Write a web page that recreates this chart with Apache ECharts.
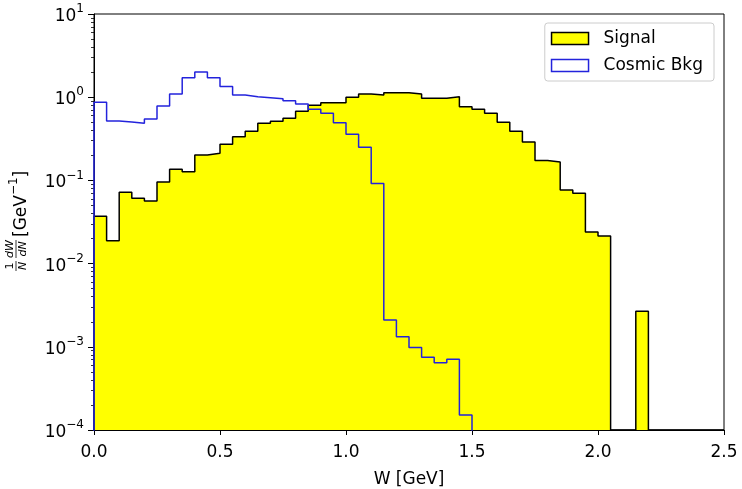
<!DOCTYPE html>
<html>
<head>
<meta charset="utf-8">
<script src="https://cdn.jsdelivr.net/npm/echarts@6/dist/echarts.min.js"></script>
<style>
html,body{margin:0;padding:0;background:#fff;}
#chart{width:742px;height:489px;}
</style>
</head>
<body>
<div id="chart"></div>
<script>
// ---- data ----
var binWidth = 0.05;
var nBins = 50;
// Signal histogram (1/N dW/dN), one value per 0.05 GeV bin from 0 to 2.5
var signalValues = [
  0.037, 0.0188, 0.072, 0.061, 0.0565, 0.096, 0.136, 0.127, 0.202, 0.212,
  0.272, 0.335, 0.389, 0.485, 0.513, 0.56, 0.68, 0.80, 0.86, 0.86,
  1.0, 1.09, 1.06, 1.13, 1.13, 1.09, 0.97, 0.97, 1.01, 0.77,
  0.716, 0.64, 0.50, 0.39, 0.29, 0.173, 0.166, 0.0767, 0.070, 0.024,
  0.0215, 0, 0, 0.00267, 0, 0, 0, 0, 0, 0
];
// Cosmic background histogram
var cosmicValues = [
  0.869, 0.518, 0.504, 0.485, 0.547, 0.783, 1.09, 1.71, 2.01, 1.71,
  1.34, 1.06, 1.01, 0.986, 0.96, 0.908, 0.83, 0.716, 0.64, 0.494,
  0.358, 0.25, 0.092, 0.0021, 0.00132, 0.00098, 0.00075, 0.000645, 0.00071, 0.000151,
  0, 0, 0, 0, 0, 0, 0, 0, 0, 0,
  0, 0, 0, 0, 0, 0, 0, 0, 0, 0
];
var xTicks = [0, 0.5, 1.0, 1.5, 2.0, 2.5];
var yMajorTicks = [1e-4, 1e-3, 1e-2, 1e-1, 1, 10];
var seriesNames = ['Signal', 'Cosmic Bkg'];

// ---- helpers ----
var Y_MIN = 1e-4, Y_MAX = 10;
var edges = [];
for (var i = 0; i <= nBins; i++) edges.push(+(i * binWidth).toFixed(4));
// empty bins are drawn at "floor" (axis bottom for the filled histogram, below range for the outline one)
function stepData(vals, floor) {
  var pts = [[edges[0], floor]];
  for (var i = 0; i < vals.length; i++) pts.push([edges[i], vals[i] > 0 ? vals[i] : floor]);
  var last = vals[vals.length - 1] > 0 ? vals[vals.length - 1] : floor;
  pts.push([edges[vals.length], last]);
  pts.push([edges[vals.length], floor]);
  return pts;
}
var yMinorTicks = [];
for (var d = -4; d < 1; d++) for (var m = 2; m <= 9; m++) yMinorTicks.push(m * Math.pow(10, d));

var FONT = 'DejaVu Sans';
var BLUE = '#2323dc';

var chart = echarts.init(document.getElementById('chart'), null, {renderer: 'canvas'});
var option = {
  animation: false,
  backgroundColor: '#ffffff',
  textStyle: {fontFamily: FONT},
  grid: {left: 94, right: 18, top: 14, bottom: 59, show: true, borderColor: '#000', borderWidth: 1, backgroundColor: 'transparent', containLabel: false, outerBoundsMode: 'none'},
  xAxis: {
    type: 'value', min: 0, max: 2.5, interval: 0.5,
    name: 'W [GeV]', nameLocation: 'middle', nameGap: 41,
    nameTextStyle: {fontSize: 17, color: '#000', fontFamily: FONT},
    axisLine: {show: true, lineStyle: {color: '#000', width: 1}},
    axisTick: {show: true, inside: false, length: 5, lineStyle: {color: '#000', width: 1}},
    axisLabel: {fontSize: 17, color: '#000', margin: 14, fontFamily: FONT,
      formatter: function (v) { return v.toFixed(1); }},
    splitLine: {show: false}
  },
  yAxis: [{
    type: 'log', logBase: 10, min: Y_MIN, max: Y_MAX,
    axisLine: {show: true, lineStyle: {color: '#000', width: 1}},
    axisTick: {show: true, inside: false, length: 6, customValues: yMajorTicks, lineStyle: {color: '#000', width: 1}},
    axisLabel: {
      customValues: yMajorTicks, margin: 10, color: '#000', fontFamily: FONT,
      formatter: function (v) {
        var e = Math.round(Math.log10(v));
        return '{b|10}{s|' + (e < 0 ? '\u2212' + (-e) : e) + '}';
      },
      rich: {
        b: {fontSize: 17, color: '#000', fontFamily: FONT, lineHeight: 22, verticalAlign: 'bottom'},
        s: {fontSize: 12, color: '#000', fontFamily: FONT, lineHeight: 12, verticalAlign: 'top'}
      }
    },
    splitLine: {show: false},
    minorTick: {show: false}
  }, {
    type: 'log', logBase: 10, min: Y_MIN, max: Y_MAX, position: 'left',
    axisLine: {show: false},
    axisTick: {show: true, inside: false, length: 3, customValues: yMinorTicks, lineStyle: {color: '#000', width: 0.8}},
    axisLabel: {show: false},
    splitLine: {show: false}
  }],
  legend: {
    orient: 'vertical', right: 28, top: 23,
    backgroundColor: 'rgba(255,255,255,0.8)', borderColor: '#cccccc', borderWidth: 1, borderRadius: 3,
    padding: [7, 11, 7, 6], itemWidth: 37, itemHeight: 12, itemGap: 10,
    textStyle: {fontSize: 17, color: '#000', fontFamily: FONT, padding: [0, 0, 0, 10]},
    data: [
      {name: seriesNames[0], icon: 'rect', itemStyle: {color: '#ffff00', borderColor: '#000', borderWidth: 1.5}},
      {name: seriesNames[1], icon: 'rect', itemStyle: {color: '#ffffff', borderColor: BLUE, borderWidth: 1.5}}
    ]
  },
  series: [{
    name: seriesNames[0], type: 'line', step: 'end',
    data: stepData(signalValues, Y_MIN),
    showSymbol: false, symbol: 'none', clip: true,
    color: '#ffff00',
    lineStyle: {color: '#000', width: 1.5},
    areaStyle: {color: '#ffff00', opacity: 1, origin: 'start'},
    z: 2
  }, {
    name: seriesNames[1], type: 'line', step: 'end',
    data: stepData(cosmicValues, Y_MIN / 1000),
    showSymbol: false, symbol: 'none', clip: true,
    color: BLUE,
    lineStyle: {color: BLUE, width: 1.5},
    z: 3
  }],
  graphic: [{
    type: 'group', x: 19, y: 220, rotation: Math.PI / 2,
    children: [
      {type: 'text', style: {text: '1', x: -46, y: -9, fontSize: 11, fontFamily: FONT, fill: '#000', align: 'center', verticalAlign: 'middle'}},
      {type: 'text', style: {text: 'N', x: -46, y: 4, fontSize: 11, fontStyle: 'italic', fontFamily: FONT, fill: '#000', align: 'center', verticalAlign: 'middle'}},
      {type: 'line', shape: {x1: -51, y1: -3, x2: -41, y2: -3}, style: {stroke: '#000', lineWidth: 0.8}},
      {type: 'text', style: {text: 'dW', x: -29, y: -9, fontSize: 11, fontStyle: 'italic', fontFamily: FONT, fill: '#000', align: 'center', verticalAlign: 'middle'}},
      {type: 'text', style: {text: 'dN', x: -29, y: 4, fontSize: 11, fontStyle: 'italic', fontFamily: FONT, fill: '#000', align: 'center', verticalAlign: 'middle'}},
      {type: 'line', shape: {x1: -38, y1: -3, x2: -20, y2: -3}, style: {stroke: '#000', lineWidth: 0.8}},
      {type: 'text', style: {
        text: '{m|[GeV}{s|\u22121}{m|]}', x: -17, y: 0, align: 'left', verticalAlign: 'middle',
        rich: {
          m: {fontSize: 17, fontFamily: FONT, fill: '#000', lineHeight: 22, verticalAlign: 'bottom'},
          s: {fontSize: 12, fontFamily: FONT, fill: '#000', lineHeight: 12, verticalAlign: 'top'}
        }
      }}
    ]
  }]
};
chart.setOption(option);
</script>
</body>
</html>
